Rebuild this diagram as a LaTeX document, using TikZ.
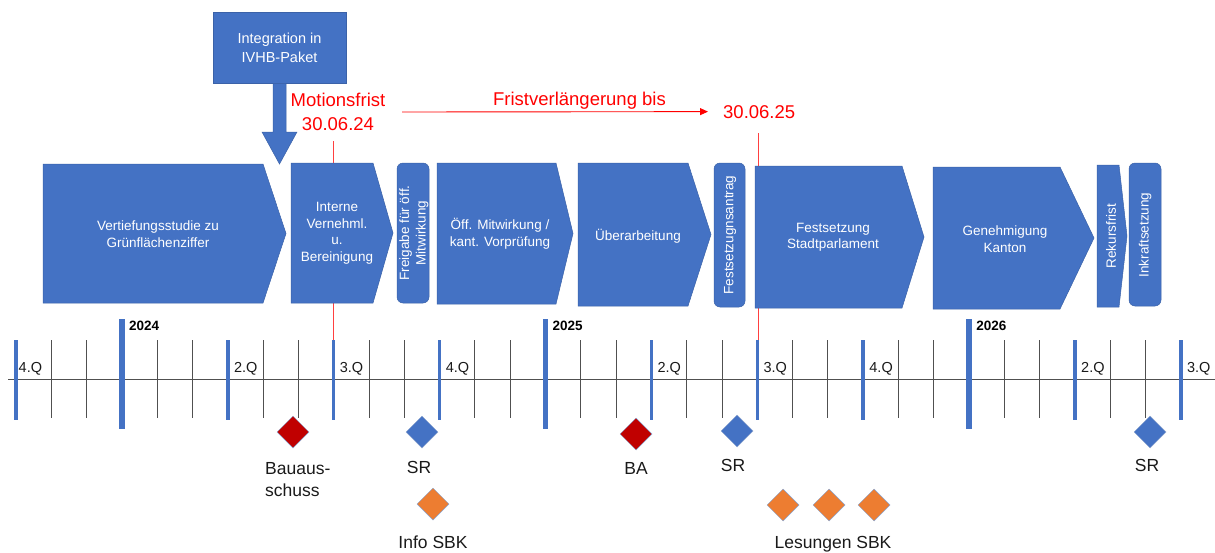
\documentclass[tikz,border=0pt]{standalone}
\usepackage{fontspec}
\setmainfont{Liberation Sans}
\usetikzlibrary{arrows.meta,shapes.geometric}
\definecolor{obl}{HTML}{4472C4}
\definecolor{obd}{HTML}{3B62A8}
\definecolor{ored}{HTML}{C00000}
\definecolor{oor}{HTML}{ED7D31}
\definecolor{tick}{HTML}{505050}
\definecolor{lbl}{HTML}{1A1A1A}
\newcommand\mychev[5]{\filldraw[chevbox] (#1,#4) -- (#2,#4) -- (#3,{(#4+#5)/2}) -- (#2,#5) -- (#1,#5) -- cycle;}
\begin{document}
\begin{tikzpicture}[x=1pt,y=-1pt,
  chevbox/.style={fill=obl, draw=obd, line width=0.5pt},
  rbox/.style={fill=obl, draw=obd, line width=0.5pt, rounded corners=6pt},
  ctext/.style={text=white, align=center, font=\fontsize{13.5}{16.5}\selectfont, inner sep=0pt},
  rtext/.style={ctext, rotate=90},
  redtxt/.style={text=red, align=center, font=\fontsize{18.5}{24}\selectfont, inner sep=0pt},
  redline/.style={draw=red!75, line width=1pt},
  dia/.style={diamond, minimum width=32pt, minimum height=32pt, inner sep=0pt, draw=obd!60, line width=0.5pt},
  blbl/.style={text=lbl, font=\fontsize{17.5}{22}\selectfont, inner sep=0pt},
  qlbl/.style={text=lbl, font=\fontsize{14.5}{16}\selectfont, inner sep=0pt, anchor=base west},
  ylbl/.style={text=black, font=\bfseries\fontsize{13.5}{16}\selectfont, inner sep=0pt, anchor=base west}
]
\useasboundingbox (0,0) rectangle (1215,552);

% red deadline lines (behind)
\coordinate (m1) at (333,141);
\coordinate (m2) at (333,340);
\coordinate (n1) at (758,133);
\coordinate (n2) at (758,340);
\draw[redline] (m1) -- (m2);
\draw[redline] (n1) -- (n2);

% top box and block arrow
\node[fill=obl, draw=obd, line width=0.5pt, minimum width=133pt, minimum height=71pt, text=white, align=center,
      font=\fontsize{14.5}{19}\selectfont] (ivhb) at (279.5,47.5) {Integration in\\IVHB-Paket};
\coordinate (tipA) at (279.5,164);
\filldraw[chevbox] ([xshift=-6.5pt]ivhb.south) -- (273,132) -- (262,132) -- (tipA) -- (297,132) -- (286,132) -- ([xshift=6.5pt]ivhb.south) -- cycle;

% red texts
\node[redtxt, anchor=north] (mf) at (338,93) {Motionsfrist\\30.06.24};
\node[redtxt, anchor=base] (fv) at (579.5,105) {Fristverlängerung bis};
\node[redtxt, anchor=base west] (d2) at (723,118) {30.06.25};
\coordinate (fs) at (402,112);
\draw[red, line width=0.9pt, -{Triangle[length=8pt,width=7pt]}] (fs) -- ([xshift=-15pt]d2.west);

% process chevrons
\mychev{43}{263}{286}{164}{303}
\mychev{291}{373}{393}{163}{303}
\mychev{437}{556}{573}{163}{304}
\mychev{578}{688}{711}{163}{306}
\mychev{755}{902}{924}{166}{308}
\mychev{933}{1060}{1094}{167}{309}
\mychev{1097}{1119}{1127}{165}{307}
\draw[rbox] (397,163) rectangle (429,303);
\draw[rbox] (714,163) rectangle (745,307);
\draw[rbox] (1129,163) rectangle (1161,306);

\node[ctext] (c1) at (158,234) {Vertiefungsstudie zu\\Grünflächenziffer};
\node[ctext] (c2) at (337,233.5) {Interne\\Vernehml.\\u.\\Bereinigung};
\node[rtext] (c3) at (414,233) {Freigabe für öff.\\Mitwirkung};
\node[ctext] (c4) at (500,233.5) {Öff. Mitwirkung /\\kant. Vorprüfung};
\node[ctext] (c5) at (638,236) {Überarbeitung};
\node[rtext] (c6) at (730,235) {Festsetzugnsantrag};
\node[ctext] (c7) at (833,237.5) {Festsetzung\\Stadtparlament};
\node[ctext] (c8) at (1005,239) {Genehmigung\\Kanton};
\node[rtext] (c9) at (1111,236) {Rekursfrist};
\node[rtext] (c10) at (1145,235) {Inkraftsetzung};

% timeline
\draw[tick, line width=1pt] (8,379) -- (1215,379);
\foreach \k in {0,...,33}{
  \pgfmathsetmacro\xx{16+35.3*\k}
  \pgfmathtruncatemacro\mm{mod(\k,3)}
  \ifnum\mm=0
    \ifnum\k=3 \draw[obl, line width=5.5pt] (\xx,319) -- (\xx,429);
    \else\ifnum\k=15 \draw[obl, line width=5.5pt] (\xx,319) -- (\xx,429);
    \else\ifnum\k=27 \draw[obl, line width=5.5pt] (\xx,319) -- (\xx,429);
    \else \draw[obl, line width=3.5pt] (\xx,340) -- (\xx,420);
    \fi\fi\fi
  \else
    \draw[tick, line width=0.9pt] (\xx,340) -- (\xx,418);
  \fi
}
\foreach \k/\q [count=\i] in {0/4.Q,6/2.Q,9/3.Q,12/4.Q,18/2.Q,21/3.Q,24/4.Q,30/2.Q,33/3.Q}{
  \pgfmathsetmacro\xx{16+35.3*\k+(\k==0?2.5:6)}
  \node[qlbl] (q\i) at (\xx,372) {\q};
}
\foreach \k/\yr in {3/2024,15/2025,27/2026}{
  \pgfmathsetmacro\xx{16+35.3*\k+7}
  \node[ylbl] (y\yr) at (\xx,330) {\yr};
}

% milestones
\node[dia, fill=ored] (bau) at (293,432) {};
\node[dia, fill=obl] (sr1) at (422,432) {};
\node[dia, fill=oor] (info) at (433,504) {};
\node[dia, fill=ored] (ba) at (636,434) {};
\node[dia, fill=obl] (sr2) at (737,431) {};
\node[dia, fill=oor] (les1) at (783,505) {};
\node[dia, fill=oor] (les2) at (829,505) {};
\node[dia, fill=oor] (les3) at (874,505) {};
\node[dia, fill=obl] (sr3) at (1150,432) {};

\node[blbl, align=left, anchor=north west] (lbau) at (265,462) {Bauaus-\\schuss};
\node[blbl, anchor=base] (lsr1) at (419,473) {SR};
\node[blbl, anchor=base] (linfo) at (433,548) {Info SBK};
\node[blbl, anchor=base] (lba) at (636,474) {BA};
\node[blbl, anchor=base] (lsr2) at (733,471) {SR};
\node[blbl, anchor=base] (lles) at (833,548) {Lesungen SBK};
\node[blbl, anchor=base] (lsr3) at (1147,471) {SR};
\end{tikzpicture}
\end{document}
